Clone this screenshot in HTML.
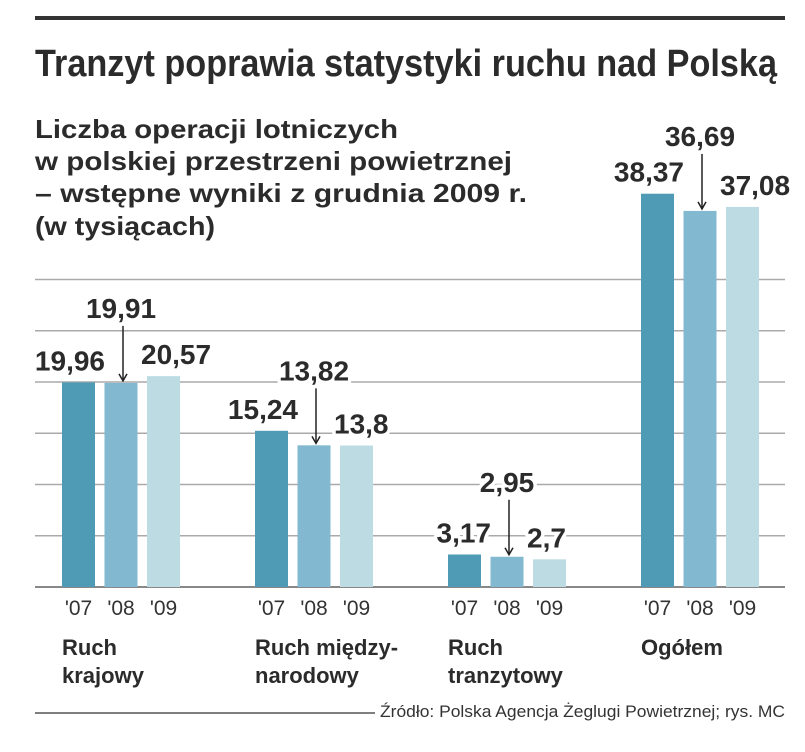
<!DOCTYPE html>
<html><head><meta charset="utf-8"><style>
html,body{margin:0;padding:0;background:#fff;}
svg{display:block;font-family:"Liberation Sans",sans-serif;}
.lbl{font-weight:bold;font-size:28px;fill:#2b2b2b;stroke:#fff;stroke-width:7px;paint-order:stroke;stroke-linejoin:round;}
.tick{font-size:21px;fill:#333;}
.cat{font-weight:bold;font-size:22px;fill:#2b2b2b;}
</style></head><body>
<svg id="chart" width="805" height="752" viewBox="0 0 805 752">
<line x1="35" y1="18" x2="785" y2="18" stroke="#333" stroke-width="4"/>
<text x="35" y="76" font-size="38" font-weight="bold" fill="#2b2b2b" textLength="742" lengthAdjust="spacingAndGlyphs">Tranzyt poprawia statystyki ruchu nad Polską</text>
<g font-size="26" font-weight="bold" fill="#2b2b2b">
<text x="35" y="138" textLength="363" lengthAdjust="spacingAndGlyphs">Liczba operacji lotniczych</text>
<text x="35" y="170" textLength="477" lengthAdjust="spacingAndGlyphs">w polskiej przestrzeni powietrznej</text>
<text x="35" y="202" textLength="492" lengthAdjust="spacingAndGlyphs">– wstępne wyniki z grudnia 2009 r.</text>
<text x="35" y="235" textLength="180" lengthAdjust="spacingAndGlyphs">(w tysiącach)</text>
</g>
<g id="grid"></g><g id="bars"></g><g id="labels"></g>
<line x1="35" y1="713" x2="375" y2="713" stroke="#555" stroke-width="1.5"/>
<text x="785" y="717" text-anchor="end" font-size="17" fill="#333" textLength="405" lengthAdjust="spacingAndGlyphs">Źródło: Polska Agencja Żeglugi Powietrznej; rys. MC</text>
</svg>
<script>
const categories = [["Ruch","krajowy"],["Ruch między-","narodowy"],["Ruch","tranzytowy"],["Ogółem"]];
const years = ["'07","'08","'09"];
const v2007 = [19.96, 15.24, 3.17, 38.37];
const v2008 = [19.91, 13.82, 2.95, 36.69];
const v2009 = [20.57, 13.8, 2.7, 37.08];
const gridTicks = [0,5,10,15,20,25,30];
const NS="http://www.w3.org/2000/svg";
const base=587, ppu=205/20;
const y=v=>base-v*ppu;
const gx=i=>62+i*193;
const bx=(i,s)=>gx(i)+s*42.5;
const bw=33;
const colors=["#4f9bb5","#82b8d0","#bcdbe3"];
function mk(t,a,p){const e=document.createElementNS(NS,t);for(const k in a)e.setAttribute(k,a[k]);p.appendChild(e);return e;}
const G=document.getElementById('grid'),B=document.getElementById('bars'),L=document.getElementById('labels');
gridTicks.forEach(t=>{const l=mk('line',{x1:35,x2:785,y1:y(t),y2:y(t),stroke:t===0?'#888':'#aaa','stroke-width':t===0?2:1.5},G);

});
const series=[v2007,v2008,v2009];
const fmt=v=>String(v).replace('.',',');
categories.forEach((c,i)=>{
 series.forEach((s,j)=>{
  const r=mk('rect',{x:bx(i,j),y:y(s[i]),width:bw,height:base-y(s[i]),fill:colors[j]},B);
  
  
  const t=mk('text',{x:bx(i,j)+bw/2,y:base+28,'text-anchor':'middle',class:'tick'},L);t.textContent=years[j];
  
  
 });
 const t7=mk('text',{x:bx(i,0)+bw+10,y:y(v2007[i])-12,'text-anchor':'end',class:'lbl'},L);t7.textContent=fmt(v2007[i]);
 
 
 const t9=mk('text',{x:bx(i,2)-6,y:y(v2009[i])-12,'text-anchor':'start',class:'lbl'},L);t9.textContent=fmt(v2009[i]);
 
 
 const cx=bx(i,1)+bw/2;
 const ax=cx+2;
 const top=y(v2008[i])-65;
 const t8=mk('text',{x:cx,y:top,'text-anchor':'middle',class:'lbl'},L);t8.textContent=fmt(v2008[i]);
 
 
 const a=mk('line',{x1:ax,x2:ax,y1:top+8,y2:y(v2008[i])-3,stroke:'#222','stroke-width':1.5},L);
 
 
 const h=mk('path',{d:`M${ax-4},${y(v2008[i])-9} L${ax},${y(v2008[i])-2} L${ax+4},${y(v2008[i])-9}`,fill:'none',stroke:'#222','stroke-width':1.5},L);
 
 
 c.forEach((ln,k)=>{const ct=mk('text',{x:gx(i),y:655+k*28,class:'cat'},L);ct.textContent=ln;
  
  });
});
</script>
</body></html>
